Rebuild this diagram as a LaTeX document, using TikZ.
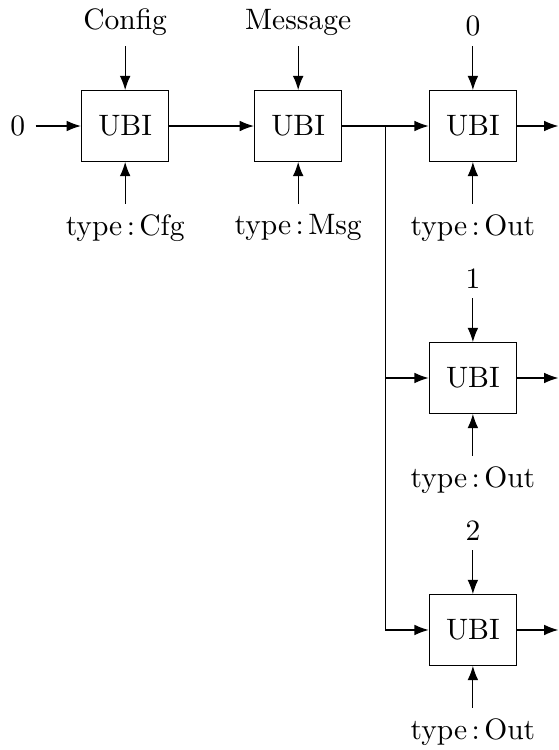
\documentclass[tikz,border=0pt]{standalone}
\usepackage{tikz}
\usetikzlibrary{arrows.meta,positioning}
\newcommand{\tp}[1]{type\kern1.5pt:\kern1.5pt#1}
\begin{document}
\begin{tikzpicture}[>=Latex,blk/.style={draw,minimum width=1.04cm,minimum height=0.84cm}]
\useasboundingbox (0,0) rectangle (6.655,-8.929);
\node[blk] (u1) at (1.49,-1.5) {UBI};
\node[blk] (u2) at (3.55,-1.5) {UBI};
\node[blk] (u3) at (5.63,-1.5) {UBI};
\node[blk] (u4) at (5.63,-4.5) {UBI};
\node[blk] (u5) at (5.63,-7.5) {UBI};
\node[above=0.52cm of u1] (cfg) {Config};
\node[above=0.52cm of u2] (msg) {Message};
\node[above=0.52cm of u3] (n0) {0};
\node[above=0.52cm of u4] (n1) {1};
\node[above=0.52cm of u5] (n2) {2};
\node[below=0.5cm of u1] (t1) {\tp{Cfg}};
\node[below=0.5cm of u2] (t2) {\tp{Msg}};
\node[below=0.5cm of u3] (t3) {\tp{Out}};
\node[below=0.5cm of u4] (t4) {\tp{Out}};
\node[below=0.5cm of u5] (t5) {\tp{Out}};
\node[left=0.54cm of u1] (z) {0};
\coordinate (sp) at (4.59,-1.5);
\coordinate[right=0.49cm of u3] (o3);
\coordinate[right=0.49cm of u4] (o4);
\coordinate[right=0.49cm of u5] (o5);
\draw[->] (z) -- (u1);
\draw[->] (u1) -- (u2);
\draw[->] (u2) -- (u3);
\draw[->] (sp) |- (u4);
\draw[->] (sp) |- (u5);
\draw[->] (cfg) -- (u1);
\draw[->] (msg) -- (u2);
\draw[->] (n0) -- (u3);
\draw[->] (n1) -- (u4);
\draw[->] (n2) -- (u5);
\draw[->] (t1) -- (u1);
\draw[->] (t2) -- (u2);
\draw[->] (t3) -- (u3);
\draw[->] (t4) -- (u4);
\draw[->] (t5) -- (u5);
\draw[->] (u3) -- (o3);
\draw[->] (u4) -- (o4);
\draw[->] (u5) -- (o5);
\end{tikzpicture}
\end{document}
